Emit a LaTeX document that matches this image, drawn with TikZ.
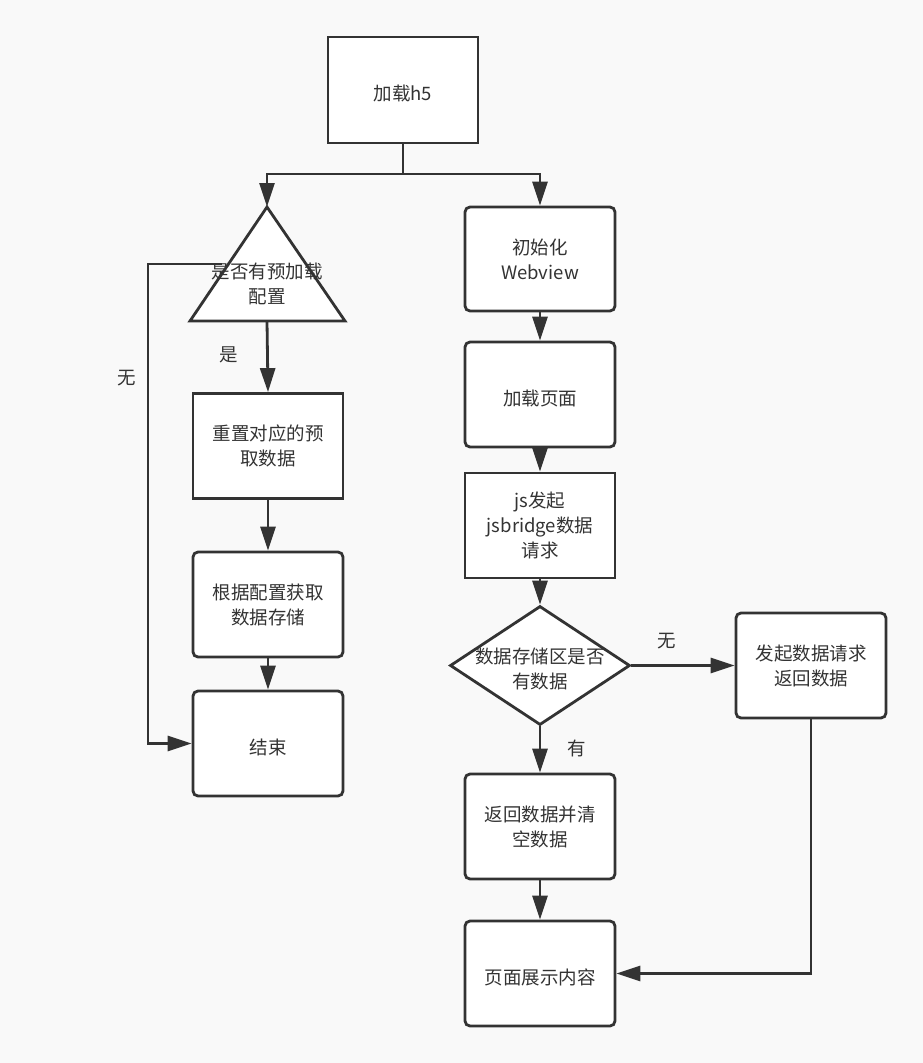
\documentclass[tikz,border=0pt]{standalone}
\usepackage{fontspec}
\setmainfont{Noto Sans CJK SC}
\usepackage{xcolor}
\usepackage{tikz}
\usetikzlibrary{positioning, calc, arrows.meta, shapes.geometric}
\definecolor{ink}{HTML}{333333}
\definecolor{paper}{HTML}{F9F9F9}
\tikzstyle{box}=[draw=ink, fill=white, line width=2.8pt, minimum width=150pt, minimum height=105pt, inner sep=0pt, align=center, text=ink, font=\fontsize{18.5}{25}\selectfont, execute at begin node={\rule{0pt}{23pt}}]
\tikzstyle{rbox}=[box, rounded corners=5pt]
\tikzstyle{decision}=[diamond, draw=ink, fill=white, line width=2.8pt, minimum width=180pt, minimum height=119pt, inner sep=0pt]
\tikzstyle{tag}=[text=ink, align=center, inner sep=0pt, font=\fontsize{18.5}{25}\selectfont]
\tikzstyle{arrow}=[-{Triangle[length=24pt, width=15pt]}, draw=ink, line width=2.8pt]

\begin{document}
\begin{tikzpicture}[x=1pt, y=-1pt]
      \fill [paper] (0,0) rectangle (923,1063);
      \useasboundingbox (0,0) rectangle (923,1063);

      % left branch
      \coordinate (pre-top) at (267,207);
      \coordinate (pre-bot) at (267,321);
      \draw [ink, fill=white, line width=2.8pt, line join=miter] (pre-top) -- (345,321) -- (190,321) -- cycle;
      \coordinate (loop-start) at (222,264);

      \node [box] (reset) at (268,446) {重置对应的预\\取数据};
      \node [rbox] (store) at (268,604.5) {根据配置获取\\数据存储};
      \node [rbox] (end) at (268,743.5) {结束};

      % right branch
      \node [box, minimum height=106pt] (load) at (403,90) {加载h5};
      \node [rbox, minimum height=104pt] (init) at (540,259) {初始化\\Webview};
      \node [rbox] (page) at (540,394.5) {加载页面};
      \node [box] (bridge) at (540,525.5) {js发起\\jsbridge数据\\请求};
      \node [decision] (check) at (540,665.5) {};
      \node [rbox] (fetch) at (811,665.5) {发起数据请求\\返回数据};
      \node [rbox] (back) at (540,826.5) {返回数据并清\\空数据};
      \node [rbox] (show) at (540,973.5) {页面展示内容};

      \coordinate (split) at (403,174);
      \draw [arrow] (load.south) -- (split) -| (pre-top);
      \draw [arrow] (split) -| (init.north);

      \draw [arrow] (pre-bot) -- (reset.north);
      \draw [arrow] (reset) -- (store);
      \draw [arrow] (store) -- (end);
      \draw [arrow] (loop-start) -- ++(-74,0) |- (end.west);
      \node [tag] (pre) at (267,284) {是否有预加载\\配置};

      \draw [arrow] (init) -- (page);
      \draw [arrow] (page) -- (bridge);
      \draw [arrow] (bridge.south) -- (check.north);
      \node [tag] (check-text) at (540,669) {数据存储区是否\\有数据};
      \draw [arrow] (check.east) -- (fetch.west);
      \draw [arrow] (check.south) -- (back.north);
      \draw [arrow] (back) -- (show);
      \draw [arrow] (fetch.south) |- (show.east);

      \node [tag] (yes-pre) at (229,355) {是};
      \node [tag] (no-pre) at (127,378) {无};
      \node [tag] (no-data) at (667,641) {无};
      \node [tag] (has-data) at (577,748) {有};
    \end{tikzpicture}
\end{document}
